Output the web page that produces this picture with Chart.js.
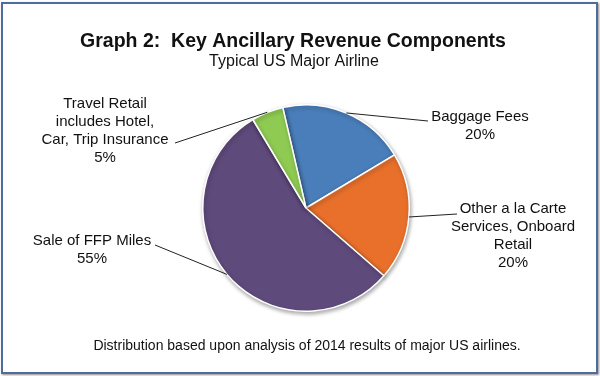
<!DOCTYPE html>
<html>
<head>
<meta charset="utf-8">
<script src="https://cdn.jsdelivr.net/npm/chart.js@4"></script>
<style>
  body { margin: 0; background: #fff; }
  #wrap { position: relative; width: 600px; height: 376px; }
  #frame {
    position: absolute; left: 1px; top: 2px; width: 597px; height: 372px;
    box-sizing: border-box; border: 2px solid #4e6d9c;
    box-shadow: 1px 1px 2px rgba(0, 0, 0, 0.45);
  }
  canvas { position: absolute; left: 0; top: 0; }
</style>
</head>
<body>
<div id="wrap">
  <div id="frame"></div>
  <canvas id="pieChart" width="600" height="376"></canvas>
</div>
<script>
// chart data
const categories = [
  ["Baggage Fees"],
  ["Other a la Carte", "Services, Onboard", "Retail"],
  ["Sale of FFP Miles"],
  ["Travel Retail", "includes Hotel,", "Car, Trip Insurance"]
];
const shares = [20, 20, 55, 5];
const sliceColors = ["#4a7ebb", "#e8702b", "#5f4a7c", "#8fcb52"];

const titleText = "Graph 2:  Key Ancillary Revenue Components";
const subtitleText = "Typical US Major Airline";
const footerText = "Distribution based upon analysis of 2014 results of major US airlines.";

// where each label sits and where its leader line stops
const labelSpots = [
  { x: 480, y: 121, endX: 428, endY: 121 },
  { x: 513, y: 213, endX: 457, endY: 214 },
  { x: 92, y: 245, endX: 155, endY: 245 },
  { x: 105, y: 108, endX: 175, endY: 143 }
];

const FONT = '"Liberation Sans", Arial, sans-serif';

const pieShadow = {
  id: "pieShadow",
  beforeDatasetsDraw(chart) {
    const ctx = chart.ctx;
    ctx.save();
    ctx.shadowColor = "rgba(0,0,0,0.35)";
    ctx.shadowBlur = 4;
    ctx.shadowOffsetX = 1;
    ctx.shadowOffsetY = 2;
  },
  afterDatasetsDraw(chart) {
    chart.ctx.restore();
  }
};

const textAndLeaders = {
  id: "textAndLeaders",
  afterDraw(chart) {
    const ctx = chart.ctx;
    ctx.save();
    ctx.fillStyle = "#111";
    ctx.textAlign = "center";
    ctx.textBaseline = "alphabetic";

    ctx.font = "bold 19.5px " + FONT;
    ctx.fillText(titleText, 293, 47);
    ctx.font = "16px " + FONT;
    ctx.fillText(subtitleText, 294, 66);
    ctx.font = "14px " + FONT;
    ctx.fillText(footerText, 307, 350);

    const arcs = chart.getDatasetMeta(0).data;
    ctx.font = "15px " + FONT;
    arcs.forEach((arc, i) => {
      const p = arc.getProps(["x", "y", "startAngle", "endAngle", "outerRadius"], true);
      const mid = (p.startAngle + p.endAngle) / 2;
      const sx = p.x + Math.cos(mid) * p.outerRadius;
      const sy = p.y + Math.sin(mid) * p.outerRadius;
      const spot = labelSpots[i];

      ctx.strokeStyle = "#222";
      ctx.lineWidth = 1;
      ctx.beginPath();
      ctx.moveTo(sx, sy);
      ctx.lineTo(spot.endX, spot.endY);
      ctx.stroke();

      const lines = categories[i].concat([shares[i] + "%"]);
      lines.forEach((t, j) => ctx.fillText(t, spot.x, spot.y + j * 18));
    });
    ctx.restore();
  }
};

new Chart(document.getElementById("pieChart").getContext("2d"), {
  type: "pie",
  data: {
    labels: categories.map(c => c.join(" ")),
    datasets: [{
      data: shares,
      backgroundColor: sliceColors,
      borderColor: "#ffffff",
      borderWidth: 1.5
    }]
  },
  options: {
    responsive: false,
    animation: false,
    rotation: -13,
    layout: { padding: { top: 104, bottom: 64, left: 202, right: 190 } },
    plugins: {
      legend: { display: false },
      tooltip: { enabled: false }
    }
  },
  plugins: [pieShadow, textAndLeaders]
});
</script>
</body>
</html>
